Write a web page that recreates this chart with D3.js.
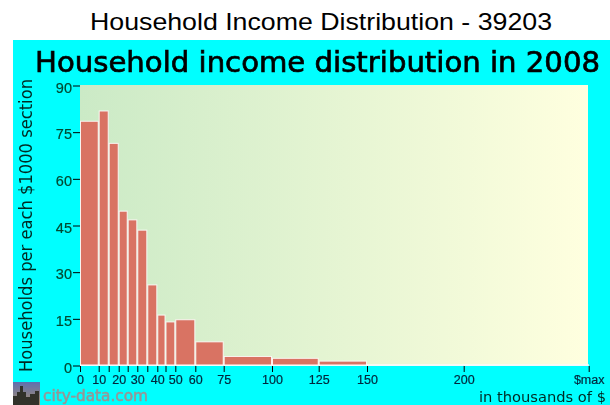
<!DOCTYPE html>
<html>
<head>
<meta charset="utf-8">
<script src="https://cdn.jsdelivr.net/npm/d3@7"></script>
<style>
html, body { margin: 0; padding: 0; background: #fff; }
svg { display: block; }
</style>
</head>
<body>
<svg id="chart"></svg>
<script>
const binEdges = [0, 10, 15, 20, 25, 30, 35, 40, 45, 50, 60, 75, 100, 125, 150, 200, 250];
const households = [78.5, 81.8, 71.4, 49.6, 46.8, 43.5, 25.9, 16.2, 14, 14.7, 7.6, 2.9, 2.3, 1.4, 0.2, 0.2];
const yTicks = [0, 15, 30, 45, 60, 75, 90];
const xLabels = {0: "0", 10: "10", 20: "20", 30: "30", 40: "40", 50: "50", 60: "60", 75: "75", 100: "100", 125: "125", 150: "150", 200: "200", 250: "$max"};

const svg = d3.select("#chart").attr("width", 610).attr("height", 405);
const defs = svg.append("defs");

// the reference is a slightly soft raster
defs.append("filter").attr("id", "soft")
    .attr("x", 0).attr("y", 0).attr("width", 1).attr("height", 1)
    .append("feGaussianBlur").attr("stdDeviation", 0.5);

const x = d3.scaleLinear()
    .domain(binEdges)
    .range([80, 98.7, 108.7, 118.7, 127.7, 137.3, 147.3, 157.3, 165.5, 175.3, 195.3, 223.7, 272, 318.7, 367, 463.7, 588.7]);
const y = d3.scaleLinear().domain([0, 90]).range([365.5, 85.5]);

svg.append("text")
    .attr("x", 321).attr("y", 30)
    .attr("text-anchor", "middle")
    .attr("font-family", "Liberation Sans")
    .attr("font-size", 24)
    .attr("textLength", 462)
    .attr("lengthAdjust", "spacingAndGlyphs")
    .text("Household Income Distribution - 39203");

const panel = svg.append("g").attr("filter", "url(#soft)");

panel.append("rect").attr("x", 13).attr("y", 40).attr("width", 597).attr("height", 365).attr("fill", "#00ffff");

const grad = defs.append("linearGradient").attr("id", "bg");
grad.append("stop").attr("offset", "0%").attr("stop-color", "#cbeac6");
grad.append("stop").attr("offset", "100%").attr("stop-color", "#ffffdf");

panel.append("rect").attr("x", 80).attr("y", 85).attr("width", 508).attr("height", 280).attr("fill", "url(#bg)");

panel.append("text")
    .attr("x", 35).attr("y", 72)
    .attr("font-family", "DejaVu Sans")
    .attr("font-size", 28.5)
    .attr("textLength", 565)
    .attr("lengthAdjust", "spacingAndGlyphs")
    .attr("stroke", "#000").attr("stroke-width", 0.7)
    .text("Household income distribution in 2008");

// bars
panel.append("g").selectAll("rect")
    .data(households)
    .join("rect")
    .attr("x", (d, i) => x(binEdges[i]) + 0.5)
    .attr("y", d => y(d))
    .attr("width", (d, i) => x(binEdges[i + 1]) - x(binEdges[i]) - 1)
    .attr("height", d => y(0) - y(d))
    .attr("fill", "#d97363")
    .attr("stroke", "#fff")
    .attr("stroke-opacity", 0.85)
    .attr("stroke-width", 1);

panel.append("line")
    .attr("x1", 80).attr("x2", 589).attr("y1", 365).attr("y2", 365)
    .attr("stroke", "#fff");

// axes
const yAxis = d3.axisLeft(y).tickValues(yTicks).tickSize(7).tickPadding(1);
const gy = panel.append("g").attr("transform", "translate(80,0)").call(yAxis);
gy.select(".domain").remove();
gy.selectAll("line").attr("stroke", "#000");
gy.selectAll("text")
    .attr("y", 2)
    .attr("font-family", "Liberation Sans").attr("font-size", 14.5)
    .attr("fill", "#004a32")
    .attr("stroke", "#004a32").attr("stroke-width", 0.2);

const xAxis = d3.axisBottom(x).tickValues(binEdges).tickSize(6).tickPadding(3)
    .tickFormat(d => xLabels[d] || "");
const gx = panel.append("g").attr("transform", "translate(0,366)").call(xAxis);
gx.select(".domain").remove();
gx.selectAll("line").attr("stroke", "#000");
gx.selectAll("text")
    .attr("font-family", "Liberation Sans").attr("font-size", 12.5)
    .attr("fill", "#00263c")
    .attr("stroke", "#00263c").attr("stroke-width", 0.2);

panel.append("text")
    .attr("transform", "translate(32,372) rotate(-90)")
    .attr("font-family", "DejaVu Sans")
    .attr("font-size", 17.5)
    .attr("textLength", 293)
    .attr("lengthAdjust", "spacingAndGlyphs")
    .attr("fill", "#042a24")
    .text("Households per each $1000 section");

panel.append("text")
    .attr("x", 479).attr("y", 401.5)
    .attr("font-family", "DejaVu Sans")
    .attr("font-size", 14.5)
    .attr("textLength", 127)
    .attr("lengthAdjust", "spacingAndGlyphs")
    .attr("fill", "#042a24")
    .text("in thousands of $");

// logo
const logoGrad = defs.append("linearGradient")
    .attr("id", "logo").attr("x1", 0).attr("x2", 0).attr("y1", 0).attr("y2", 1);
logoGrad.append("stop").attr("offset", "0%").attr("stop-color", "#5f6fb0");
logoGrad.append("stop").attr("offset", "100%").attr("stop-color", "#a8906a");
panel.append("rect").attr("x", 13).attr("y", 382).attr("width", 27).attr("height", 23).attr("fill", "url(#logo)");
panel.append("path")
    .attr("d", "M13 405V396h4v-4h3V386h3v6h3v5h4v-3h5V391h4v14Z")
    .attr("fill", "#33302c");

panel.append("text")
    .attr("x", 43).attr("y", 400.5)
    .attr("font-family", "DejaVu Sans")
    .attr("font-size", 15)
    .attr("textLength", 105)
    .attr("lengthAdjust", "spacingAndGlyphs")
    .attr("fill", "#969696")
    .attr("stroke", "#969696").attr("stroke-width", 0.5)
    .text("city-data.com");
</script>
</body>
</html>
